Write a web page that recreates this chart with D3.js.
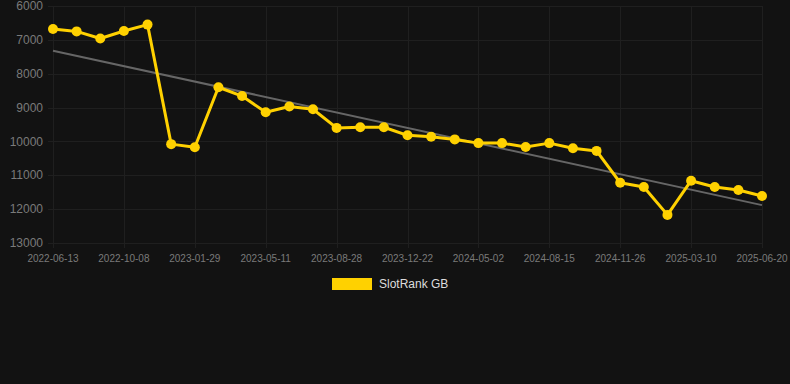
<!DOCTYPE html>
<html>
<head>
<meta charset="utf-8">
<script src="https://cdn.jsdelivr.net/npm/d3@7"></script>
<style>
  html, body { margin: 0; padding: 0; background: #121212; }
  svg { display: block; font-family: "Liberation Sans", Arial, sans-serif; }
</style>
</head>
<body>
<div id="chart"></div>
<script>
// tick labels shown under the axis (every third data point)
const tickLabels = ['2022-06-13', '2022-10-08', '2023-01-29', '2023-05-11', '2023-08-28',
  '2023-12-22', '2024-05-02', '2024-08-15', '2024-11-26', '2025-03-10', '2025-06-20'];

// rank values
const ranks = [6680, 6750, 6960, 6740, 6550, 10080, 10170, 8400, 8660, 9140, 8970,
  9050, 9600, 9580, 9580, 9820, 9860, 9940, 10050, 10050, 10165, 10050, 10200,
  10280, 11220, 11345, 12170, 11160, 11345, 11435, 11610];

const seriesName = 'SlotRank GB';

const width = 790, height = 384;
const margin = { top: 6, right: 28, bottom: 141, left: 53 };

const svg = d3.select('#chart')
  .append('svg')
  .attr('width', width)
  .attr('height', height);

const x = d3.scaleLinear()
  .domain([0, ranks.length - 1])
  .range([margin.left, width - margin.right]);

const y = d3.scaleLinear()
  .domain([6000, 13000])
  .range([margin.top, height - margin.bottom]);

const yTicks = d3.range(6000, 13001, 1000);
const xTickIdx = tickLabels.map((d, i) => i * 3);

// grid
const grid = svg.append('g').attr('stroke', '#1f1f1f').attr('stroke-width', 1);
grid.selectAll('line.h')
  .data(yTicks)
  .join('line')
  .attr('class', 'h')
  .attr('x1', margin.left - 5)
  .attr('x2', width - margin.right)
  .attr('y1', d => Math.round(y(d)) + 0.5)
  .attr('y2', d => Math.round(y(d)) + 0.5);
grid.selectAll('line.v')
  .data(xTickIdx)
  .join('line')
  .attr('class', 'v')
  .attr('x1', d => Math.round(x(d)) + 0.5)
  .attr('x2', d => Math.round(x(d)) + 0.5)
  .attr('y1', margin.top)
  .attr('y2', y(13000) + 5);

// y labels
svg.append('g')
  .selectAll('text')
  .data(yTicks)
  .join('text')
  .attr('x', margin.left - 10)
  .attr('y', d => y(d))
  .attr('dy', '0.35em')
  .attr('text-anchor', 'end')
  .attr('fill', '#7a7a7a')
  .style('font-size', '12px')
  .text(d => d);

// x labels
svg.append('g')
  .selectAll('text')
  .data(xTickIdx)
  .join('text')
  .attr('x', d => x(d))
  .attr('y', y(13000) + 19)
  .attr('text-anchor', 'middle')
  .attr('fill', '#7a7a7a')
  .style('font-size', '10px')
  .text((d, i) => tickLabels[i]);

// linear trend (least squares)
const n = ranks.length;
const mx = d3.mean(ranks, (d, i) => i);
const my = d3.mean(ranks);
const slope = d3.sum(ranks, (d, i) => (i - mx) * (d - my)) / d3.sum(ranks, (d, i) => (i - mx) * (i - mx));
const icpt = my - slope * mx;

svg.append('line')
  .attr('x1', x(0))
  .attr('y1', y(icpt))
  .attr('x2', x(n - 1))
  .attr('y2', y(icpt + slope * (n - 1)))
  .attr('stroke', '#666')
  .attr('stroke-width', 2);

// series line
const line = d3.line()
  .x((d, i) => x(i))
  .y(d => y(d));

svg.append('path')
  .datum(ranks)
  .attr('d', line)
  .attr('fill', 'none')
  .attr('stroke', '#FFD100')
  .attr('stroke-width', 3)
  .attr('stroke-linejoin', 'round');

svg.append('g')
  .selectAll('circle')
  .data(ranks)
  .join('circle')
  .attr('cx', (d, i) => x(i))
  .attr('cy', d => y(d))
  .attr('r', 5)
  .attr('fill', '#FFD100');

// legend
const legend = svg.append('g').attr('transform', 'translate(332,278)');
legend.append('rect')
  .attr('width', 40)
  .attr('height', 12)
  .attr('fill', '#FFD100');
legend.append('text')
  .attr('x', 47)
  .attr('y', 6)
  .attr('dy', '0.35em')
  .attr('fill', '#dddddd')
  .style('font-size', '12px')
  .text(seriesName);
</script>
</body>
</html>
